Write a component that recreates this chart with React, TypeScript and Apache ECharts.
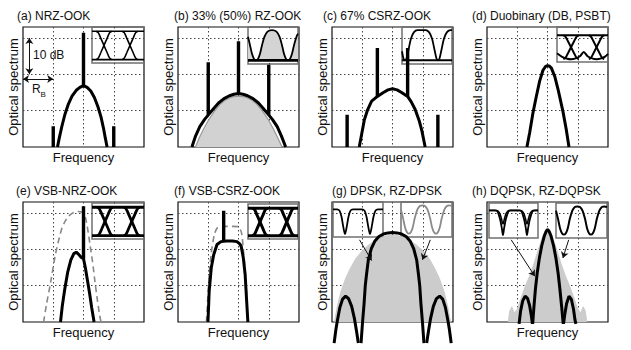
import { useEffect, useRef } from "react";
import * as echarts from "echarts";

const FONT = '"Liberation Sans", Arial, Helvetica, sans-serif';

// ---------- texts ----------
const panelTitles = [
  "(a) NRZ-OOK",
  "(b) 33% (50%) RZ-OOK",
  "(c) 67% CSRZ-OOK",
  "(d) Duobinary (DB, PSBT)",
  "(e) VSB-NRZ-OOK",
  "(f) VSB-CSRZ-OOK",
  "(g) DPSK, RZ-DPSK",
  "(h) DQPSK, RZ-DQPSK",
];
const yAxisName = "Optical spectrum";
const xAxisName = "Frequency";
const scaleText = "10 dB";
const rbText = ["R", "B"];

// ---------- axes (frequency in units of R_B, level in dB) ----------
const freqRange = [-2, 2, 1];
const dbRange = [0, 33, 10];

// ---------- (a) NRZ-OOK ----------
const aSpectrum = [[-0.86,0],[-0.8,2.5],[-0.72,5.5],[-0.62,8.8],[-0.5,11.8],[-0.38,14],[-0.24,15.6],[-0.12,16.4],[0,16.9],[0.12,16.4],[0.24,15.4],[0.36,13.6],[0.48,11],[0.58,8.2],[0.66,5.2],[0.72,2.5],[0.78,0]];
const aTones = [[-1,0,5.7],[0,16.9,31.4],[1,0,5.7]];
const dbScaleBar = [[-1.79,30],[-1.79,20]];
const rbBar = [[-2,18.7],[-1,18.7]];

// ---------- (b) RZ-OOK ----------
const bRz33 = [[-1.54,0],[-1.42,3],[-1.28,5.6],[-1.12,7.6],[-0.99,8.9],[-0.82,10.6],[-0.66,12.1],[-0.48,13.3],[-0.3,14.1],[-0.15,14.5],[0,14.7],[0.15,14.5],[0.3,14.1],[0.48,13.3],[0.66,12.1],[0.82,10.6],[0.99,8.9],[1.12,7.6],[1.28,5.6],[1.42,3],[1.56,0]];
const bRz50 = [[-1.42,0],[-1.3,2.5],[-1.15,5],[-1,7.3],[-0.8,9.8],[-0.6,11.8],[-0.4,13.1],[-0.2,13.8],[0,14],[0.2,13.8],[0.4,13.1],[0.6,11.8],[0.8,9.8],[1,7.3],[1.15,5],[1.3,2.5],[1.44,0]];
const bTones = [[-1,8.9,23.3],[0,14.7,29.1],[1,8.9,22.6]];

// ---------- (c) CSRZ-OOK ----------
const cSpectrum = [[-1.1,0],[-1.02,3.5],[-0.93,7.5],[-0.82,10.3],[-0.69,12.6],[-0.5,13.9],[-0.3,15],[-0.15,15.7],[0,16],[0.15,15.7],[0.3,15],[0.5,13.9],[0.62,12.4],[0.75,10.3],[0.88,7.3],[0.97,4.5],[1.08,0]];
const cTones = [[-1.5,0,8.9],[-0.5,13.9,27.2],[0.5,13.9,27.2],[1.5,0,8.9]];

// ---------- (d) Duobinary ----------
const dSpectrum = [[-0.68,0],[-0.59,3.9],[-0.48,9.4],[-0.37,13.9],[-0.26,18.1],[-0.15,21.1],[-0.06,22.2],[0,22.4],[0.07,22.2],[0.13,21.7],[0.24,19.4],[0.35,15.8],[0.51,9.8],[0.62,4.8],[0.71,0]];

// ---------- (e) VSB-NRZ-OOK ----------
const eFilter = [[-1.32,0],[-1.22,5],[-1.1,10.3],[-0.93,18.5],[-0.82,22.5],[-0.71,25.9],[-0.6,27.8],[-0.49,29.1],[-0.35,30],[-0.2,30.4],[-0.05,30.2],[0.06,28.8],[0.14,25.5],[0.22,21],[0.3,16.5],[0.38,11],[0.46,6],[0.53,2],[0.58,0]];
const eSpectrum = [[-0.76,0],[-0.7,4.5],[-0.62,9],[-0.52,13.8],[-0.42,17],[-0.32,18.8],[-0.24,19.2],[-0.16,18.6],[-0.08,17.8],[0,17.4],[0.06,15],[0.13,11.5],[0.2,8],[0.27,4],[0.35,0]];
const eTones = [[0,17.4,31.8]];

// ---------- (f) VSB-CSRZ-OOK ----------
const fFilter = [[-1.06,0],[-1.02,6],[-0.97,13],[-0.9,19],[-0.8,24],[-0.7,25.9],[-0.5,26.3],[-0.2,26.3],[0,26.2],[0.1,24.5],[0.16,20],[0.22,14],[0.27,7],[0.31,0]];
const fSpectrum = [[-1.01,0],[-0.99,4],[-0.97,8.4],[-0.9,14.9],[-0.82,18.5],[-0.71,21.3],[-0.58,22.1],[-0.4,22.3],[-0.2,22.3],[-0.05,22.1],[0.04,21.5],[0.09,20.8],[0.16,17.6],[0.22,13],[0.27,5.7],[0.31,0]];
const fTones = [[-0.49,22.2,30.6]];

// ---------- (g) DPSK, RZ-DPSK ----------
const gRzDpsk = [[-1.92,0],[-1.82,4.5],[-1.7,8.5],[-1.55,12],[-1.38,15],[-1.2,17.6],[-1,19.6],[-0.8,21.1],[-0.6,22.3],[-0.4,23.2],[-0.2,23.7],[0,23.9],[0.2,23.7],[0.4,23.2],[0.6,22.3],[0.8,21.1],[1,19.6],[1.2,17.6],[1.38,15],[1.55,12],[1.7,8.5],[1.82,4.5],[1.92,0]];
const gSideL = [[-1.93,-5.8],[-1.87,-2],[-1.82,0.5],[-1.74,4],[-1.65,6.3],[-1.55,7.1],[-1.45,6.4],[-1.35,4.3],[-1.26,1],[-1.19,-2.5],[-1.13,-5.8]];
const gMain = [[-1.04,-5.8],[-0.99,0],[-0.94,5],[-0.9,10],[-0.86,13],[-0.8,17],[-0.7,20.2],[-0.58,22.3],[-0.45,23.5],[-0.3,24.2],[-0.15,24.5],[0,24.6],[0.15,24.5],[0.3,24.2],[0.45,23.5],[0.58,22.3],[0.7,20.2],[0.8,17],[0.86,13],[0.9,10],[0.94,5],[0.99,0],[1.04,-5.8]];
const gSideR = [[1.13,-5.8],[1.19,-2.5],[1.26,1],[1.35,4.3],[1.45,6.4],[1.56,7.1],[1.66,6.3],[1.75,4],[1.83,0.5],[1.88,-2],[1.94,-5.8]];
const gPointers = [[[-1.09,22.6],[-0.69,16.9]],[[1.25,22.6],[0.99,17.1]]];

// ---------- (h) DQPSK, RZ-DQPSK ----------
const hRzDqpsk = [[-1.3,0],[-1.25,3],[-1.18,4.2],[-1.1,2.5],[-1,3.5],[-0.9,6],[-0.75,9.5],[-0.6,12.5],[-0.45,16],[-0.3,20],[-0.15,23.8],[-0.05,25.5],[0,26],[0.05,25.5],[0.15,23.8],[0.3,20],[0.45,16],[0.6,12.5],[0.75,9.5],[0.9,6],[1,3.5],[1.1,2.5],[1.18,4.2],[1.25,3],[1.3,0]];
const hSideL = [[-0.94,-0.5],[-0.89,3],[-0.82,5.8],[-0.74,7.1],[-0.66,6.5],[-0.59,4.5],[-0.53,1.5],[-0.5,-0.5]];
const hMain = [[-0.49,-0.5],[-0.45,4],[-0.4,9],[-0.34,13.5],[-0.27,17.5],[-0.19,21],[-0.1,23.8],[-0.04,25],[0,25.4],[0.05,25],[0.11,23.8],[0.2,21],[0.28,17.5],[0.35,13.5],[0.41,9],[0.47,4],[0.52,-0.5]];
const hSideR = [[0.53,-0.5],[0.57,2],[0.63,5],[0.71,7.1],[0.79,6.2],[0.86,3.5],[0.91,0.5],[0.94,-0.5]];
const hPointers = [[[-1.2,22.6],[-0.42,12.6]],[[0.7,22.6],[0.51,17.6]]];

// ---------- eye diagrams (time in bit slots, normalised intensity) ----------
const nrzEdge = [[-0.3,0],[-0.22,0.05],[-0.12,0.25],[0,0.5],[0.12,0.75],[0.22,0.95],[0.3,1]];
const railHigh = [[0,1],[2,1]];
const railLow = [[0,0],[2,0]];
const aCross = [0.46, 1.46];
const eCross = [0.5, 1.53];
const fCross = [0.48, 1.55];
const dCross = [0.55, 1.55];
const dLower = [[0,0.25],[0.2,0.1],[0.4,0.02],[0.55,0],[0.7,0.02],[0.9,0.12],[1.05,0.3],[1.2,0.12],[1.4,0.02],[1.55,0],[1.7,0.02],[1.9,0.12],[2,0.22]];
const bEye = [[0,0.78],[0.08,0.5],[0.16,0.22],[0.24,0.05],[0.32,0],[0.4,0.05],[0.48,0.22],[0.56,0.5],[0.66,0.78],[0.78,0.95],[0.96,1],[1.14,0.95],[1.26,0.78],[1.36,0.5],[1.44,0.22],[1.52,0.05],[1.6,0],[1.68,0.05],[1.76,0.22],[1.84,0.5],[1.94,0.78],[2,0.88]];
const cEye = [[0,0.3],[0.06,0.06],[0.12,0],[0.18,0.06],[0.26,0.35],[0.36,0.72],[0.48,0.93],[0.62,1],[0.78,1],[0.94,1],[1.08,0.93],[1.2,0.72],[1.3,0.35],[1.38,0.06],[1.44,0],[1.5,0.06],[1.58,0.35],[1.68,0.72],[1.8,0.93],[1.94,1],[2,1]];
const dpskEye = [[0,1],[0.16,1],[0.26,0.95],[0.34,0.7],[0.41,0.3],[0.48,0],[0.55,0.3],[0.62,0.7],[0.7,0.95],[0.8,1],[1.16,1],[1.26,0.95],[1.34,0.7],[1.41,0.3],[1.48,0],[1.55,0.3],[1.62,0.7],[1.7,0.95],[1.8,1],[2,1]];
const rzEye = [[0,0.85],[0.08,0.55],[0.16,0.22],[0.24,0.04],[0.31,0],[0.38,0.04],[0.46,0.22],[0.54,0.55],[0.64,0.85],[0.74,0.98],[0.84,1],[0.94,0.98],[1.04,0.85],[1.14,0.55],[1.22,0.22],[1.3,0.04],[1.37,0],[1.44,0.04],[1.52,0.22],[1.6,0.55],[1.7,0.85],[1.8,0.98],[1.9,1],[2,0.98]];
const dqpskDeep = [[0,1],[0.25,1],[0.35,0.95],[0.45,0.65],[0.52,0.3],[0.57,0],[0.62,0.3],[0.69,0.65],[0.79,0.95],[0.89,1],[1.23,1],[1.33,0.95],[1.43,0.65],[1.5,0.3],[1.55,0],[1.6,0.3],[1.67,0.65],[1.77,0.95],[1.87,1],[2,1]];
const dqpskShallow = [[0,1],[0.33,1],[0.43,0.9],[0.5,0.7],[0.57,0.45],[0.64,0.7],[0.71,0.9],[0.81,1],[1.31,1],[1.41,0.9],[1.48,0.7],[1.55,0.45],[1.62,0.7],[1.69,0.9],[1.79,1],[2,1]];

// ---------- layout (pixels) ----------
const mainRects = [[23,27],[178,27],[332,27],[487,27],[23,202],[178,202],[332,202],[487,202]];
const mainW = 121, mainH = 120;
const titlePos = [[17,10],[174,10],[323,10],[472,10],[16,185],[174,185],[332,185],[472,185]];
// inset: [left, top, width, height, yMax]
const insetRects = [
  [92,27,52,36,1.15],   // 8 a
  [248,27,50,37,1.1],   // 9 b
  [402,27,50,37,1.1],   // 10 c
  [557,27,51,35,1.35],  // 11 d
  [92,203,52,36,1.15],  // 12 e
  [248,204,50,35,1.15], // 13 f
  [333,202,50,35,1.3],  // 14 g1
  [401,202,51,35,1.12], // 15 g2
  [489,203,49,35,1.3],  // 16 h1
  [556,203,51,35,1.12], // 17 h2
];

function line(g: number, data: number[][], width = 2.8, color = "#000", extra: any = {}) {
  return {
    type: "line", xAxisIndex: g, yAxisIndex: g, data, symbol: "none", showSymbol: false,
    silent: true, lineStyle: { width, color }, itemStyle: { color }, z: 3, ...extra,
  };
}
function tones(g: number, list: number[][], width = 3.4) {
  return list.map(([f, y0, y1]) => line(g, [[f, y0], [f, y1]], width, "#000", { z: 4 }));
}
function nrzEye(g: number, cross: number[], width: number) {
  const out: any[] = [line(g, railHigh, width, "#000", { z: 6 }), line(g, railLow, width, "#000", { z: 6 })];
  cross.forEach((c) => {
    out.push(line(g, nrzEdge.map(([dx, y]) => [c + dx, y]), width, "#000", { z: 6, smooth: 0.3 }));
    out.push(line(g, nrzEdge.map(([dx, y]) => [c + dx, 1 - y]), width, "#000", { z: 6, smooth: 0.3 }));
  });
  return out;
}
function pointerMark(pairs: number[][][]) {
  return {
    silent: true, symbol: ["none", "arrow"], symbolSize: 6, label: { show: false },
    lineStyle: { color: "#111", width: 1, type: "solid" },
    data: pairs.map(([a, b]) => [{ coord: a }, { coord: b }]),
  };
}

function buildOption() {
  const grid: any[] = [];
  const xAxis: any[] = [];
  const yAxis: any[] = [];
  const dotted = { type: [1.5, 2.5], color: "#444", width: 1 };
  mainRects.forEach((r, i) => {
    grid.push({ left: r[0], top: r[1], width: mainW, height: mainH, show: true, borderColor: "#111", borderWidth: 1.2, backgroundColor: "rgba(0,0,0,0)" });
    xAxis.push({
      gridIndex: i, type: "value", min: freqRange[0], max: freqRange[1], interval: freqRange[2],
      axisLine: { show: false }, axisTick: { show: false }, axisLabel: { show: false },
      splitLine: { show: true, showMinLine: false, showMaxLine: false, lineStyle: dotted },
      name: i === 6 ? "" : xAxisName, nameLocation: "middle", nameGap: 4,
      nameTextStyle: { fontSize: 13, color: "#111", fontFamily: FONT },
    });
    yAxis.push({
      gridIndex: i, type: "value", min: dbRange[0], max: dbRange[1], interval: dbRange[2],
      axisLine: { show: false }, axisTick: { show: false }, axisLabel: { show: false },
      splitLine: { show: true, showMinLine: false, showMaxLine: false, lineStyle: dotted },
      name: yAxisName, nameLocation: "middle", nameGap: 3,
      nameTextStyle: { fontSize: 13, color: "#111", fontFamily: FONT },
    });
  });
  insetRects.forEach((r, k) => {
    const gi = 8 + k;
    grid.push({ left: r[0], top: r[1], width: r[2], height: r[3], show: true, borderColor: "#707070", borderWidth: 1.5, backgroundColor: "rgba(0,0,0,0)" });
    xAxis.push({ gridIndex: gi, type: "value", min: 0, max: 2, show: false });
    yAxis.push({ gridIndex: gi, type: "value", min: -0.12, max: r[4], show: false });
  });

  const series: any[] = [
    // (a)
    line(0, aSpectrum, 3, "#000", {
      markLine: {
        silent: true, symbol: ["arrow", "arrow"], symbolSize: 6, label: { show: false },
        lineStyle: { color: "#111", width: 1, type: "solid" },
        data: [[{ coord: dbScaleBar[0] }, { coord: dbScaleBar[1] }], [{ coord: rbBar[0] }, { coord: rbBar[1] }]],
      },
    }),
    ...tones(0, aTones),
    // (b)
    line(1, bRz50, 1.2, "#999", { areaStyle: { color: "#d2d2d2", opacity: 1 }, z: 2 }),
    line(1, bRz33, 3),
    ...tones(1, bTones),
    // (c)
    line(2, cSpectrum, 3),
    ...tones(2, cTones),
    // (d)
    line(3, dSpectrum, 3),
    // (e)
    line(4, eFilter, 1.6, "#888", { lineStyle: { width: 1.6, color: "#888", type: [6, 4] }, smooth: 0.2 }),
    line(4, eSpectrum, 3),
    ...tones(4, eTones),
    // (f)
    line(5, fFilter, 1.6, "#888", { lineStyle: { width: 1.6, color: "#888", type: [6, 4] }, smooth: 0.2 }),
    line(5, fSpectrum, 3),
    ...tones(5, fTones),
    // (g)
    line(6, gRzDpsk, 0.8, "#c8c8c8", { areaStyle: { color: "#cccccc", opacity: 1 }, z: 2, markLine: pointerMark(gPointers) }),
    line(6, gSideL, 3, "#000", { clip: false }),
    line(6, gMain, 3, "#000", { clip: false }),
    line(6, gSideR, 3, "#000", { clip: false }),
    // (h)
    line(7, hRzDqpsk, 0.8, "#c8c8c8", { areaStyle: { color: "#cccccc", opacity: 1 }, z: 2, markLine: pointerMark(hPointers) }),
    line(7, hSideL, 3, "#000", { clip: false }),
    line(7, hMain, 3, "#000", { clip: false }),
    line(7, hSideR, 3, "#000", { clip: false }),
    // eye insets
    ...nrzEye(8, aCross, 1.6),
    line(9, bEye, 1.8, "#000", { areaStyle: { color: "#d4d4d4", opacity: 1 }, smooth: 0.3, z: 5 }),
    line(9, railLow, 2.6, "#000", { z: 6 }),
    line(10, cEye, 1.8, "#000", { smooth: 0.3, z: 6 }),
    line(10, railLow, 2, "#000", { z: 6 }),
    line(11, railHigh, 2, "#000", { z: 6 }),
    ...dCross.flatMap((c) => [
      line(11, nrzEdge.map(([dx, y]) => [c + dx, y]), 2, "#000", { z: 6, smooth: 0.3 }),
      line(11, nrzEdge.map(([dx, y]) => [c + dx, 1 - y]), 2, "#000", { z: 6, smooth: 0.3 }),
    ]),
    line(11, dLower, 2, "#000", { z: 6, smooth: 0.3 }),
    ...nrzEye(12, eCross, 2.8),
    ...nrzEye(13, fCross, 3),
    line(14, dpskEye, 1.8, "#000", { smooth: 0.3, z: 6 }),
    line(15, rzEye, 1.8, "#8a8a8a", { smooth: 0.3, z: 6 }),
    line(16, dqpskDeep, 1.8, "#000", { smooth: 0.3, z: 6 }),
    line(16, dqpskShallow, 1.5, "#000", { smooth: 0.3, z: 6 }),
    line(17, rzEye, 2, "#000", { smooth: 0.3, z: 6 }),
  ];

  const title = panelTitles.map((t, i) => ({
    text: t, left: titlePos[i][0], top: titlePos[i][1], padding: 0,
    textStyle: { fontSize: 12, fontWeight: "normal", color: "#111", fontFamily: FONT },
  }));

  const graphic = [
    { type: "text", left: 33, top: 49, style: { text: scaleText, font: `12px ${FONT}`, fill: "#111" } },
    { type: "text", left: 32, top: 83, style: { text: rbText[0], font: `12px ${FONT}`, fill: "#111" } },
    { type: "text", left: 40.5, top: 90, style: { text: rbText[1], font: `8px ${FONT}`, fill: "#111" } },
  ];

  return { animation: false, backgroundColor: "#fff", title, grid, xAxis, yAxis, series, graphic };
}

export default function App() {
  const ref = useRef<HTMLDivElement>(null);
  useEffect(() => {
    const chart = echarts.init(ref.current!, null, { renderer: "svg" });
    chart.setOption(buildOption() as any);
    return () => chart.dispose();
  }, []);
  return (
    <div
      ref={ref}
      style={{ position: "fixed", left: 0, top: 0, width: 631, height: 350, background: "#fff" }}
    />
  );
}
